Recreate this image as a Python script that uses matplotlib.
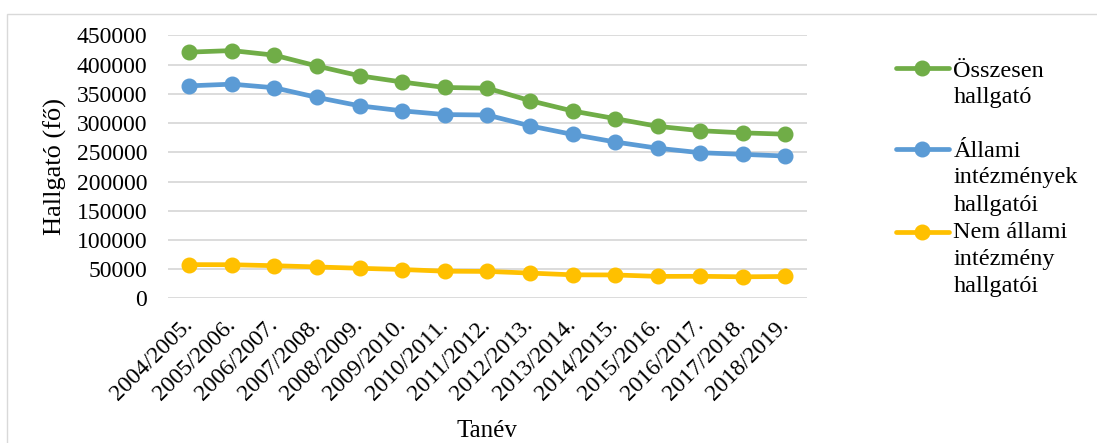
import matplotlib.pyplot as plt
from matplotlib.lines import Line2D
from matplotlib.patches import Rectangle

plt.rcParams['font.family'] = ['Liberation Serif', 'DejaVu Serif']

# tanévek
tanev = ["2004/2005.", "2005/2006.", "2006/2007.", "2007/2008.", "2008/2009.",
         "2009/2010.", "2010/2011.", "2011/2012.", "2012/2013.", "2013/2014.",
         "2014/2015.", "2015/2016.", "2016/2017.", "2017/2018.", "2018/2019."]

osszesen = [421500, 424200, 416300, 397700, 381000, 370300, 361000, 359800,
            338500, 320800, 307700, 294500, 287000, 283300, 281000]
allami = [363800, 366700, 360500, 344000, 329600, 321000, 314600, 313800,
          295300, 280600, 267700, 257000, 249300, 246500, 243600]
nem_allami = [57700, 57500, 55800, 53700, 51400, 49300, 46400, 46000,
              43200, 40200, 40000, 37500, 37700, 36800, 37400]

sorozatok = ["Összesen\nhallgató", "Állami\nintézmények\nhallgatói",
             "Nem állami\nintézmény\nhallgatói"]
szinek = ["#70ad47", "#5b9bd5", "#ffc000"]
yticks = [0, 50000, 100000, 150000, 200000, 250000, 300000, 350000, 400000, 450000]

W, H = 1097, 443
fig = plt.figure(figsize=(W / 100, H / 100), dpi=100)
fig.add_artist(Rectangle((7 / W, -0.1), 1.2, 1 - 14 / H + 0.1, transform=fig.transFigure,
                         fill=False, edgecolor="#d9d9d9", linewidth=1))

# rajzterület pixelben
L, R, T, B = 168, 806.7, 35.5, 298.3
ax = fig.add_axes([L / W, 1 - B / H, (R - L) / W, (B - T) / H])
x = range(len(tanev))
for adat, szin in zip([osszesen, allami, nem_allami], szinek):
    ax.plot(x, adat, color=szin, linewidth=3.4, marker="o", markersize=10.5,
            solid_capstyle="round", zorder=3)

ax.set_xlim(-0.5, len(tanev) - 0.5)
ax.set_ylim(0, 450000)
ax.set_yticks(yticks)
ax.set_yticklabels([str(v) for v in yticks], fontsize=17)
ax.set_xticks(list(x))
ax.set_xticklabels(tanev, fontsize=17, rotation=45, ha="right", va="center",
                   rotation_mode="anchor")
ax.tick_params(axis="both", length=0)
ax.tick_params(axis="y", pad=15)
ax.tick_params(axis="x", pad=17)
ax.grid(axis="y", color="#d9d9d9", linewidth=1.3)
ax.set_axisbelow(True)
for s in ax.spines.values():
    s.set_visible(False)

fig.text(55 / W, 1 - (T + B) / 2 / H, "Hallgató (fő)", fontsize=19, rotation=90,
         ha="center", va="center")
fig.text((L + R) / 2 / W, 1 - 437 / H, "Tanév", fontsize=18, ha="center", va="baseline")

# jelmagyarázat
leg_y = [68.3, 149.3, 231.7]
alap = [[76.7, 103.3], [156.7, 183.3, 211.0], [238.3, 265.0, 291.7]]
for nev, szin, yy, sorok in zip(sorozatok, szinek, leg_y, alap):
    fig.add_artist(Line2D([896 / W, 949 / W], [1 - yy / H] * 2, transform=fig.transFigure,
                          color=szin, linewidth=3.4, solid_capstyle="round"))
    fig.add_artist(Line2D([921.7 / W], [1 - yy / H], transform=fig.transFigure,
                          color=szin, marker="o", markersize=10.5))
    for sor, by in zip(nev.split("\n"), sorok):
        fig.text(953.3 / W, 1 - by / H, sor, fontsize=17.5, ha="left", va="baseline")

fig.savefig("out.png", dpi=100)
